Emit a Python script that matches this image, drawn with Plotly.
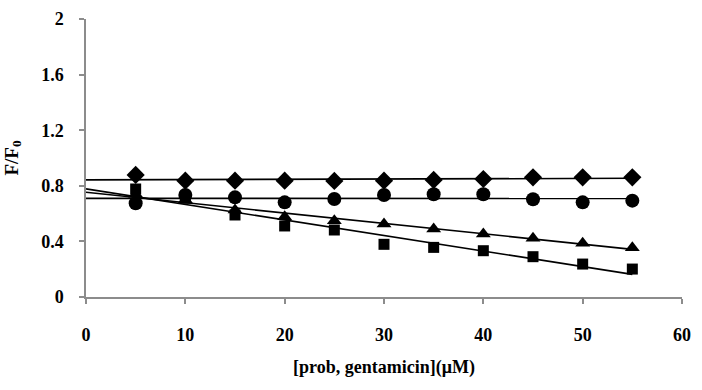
import numpy as np
import plotly.graph_objects as go

x = [5, 10, 15, 20, 25, 30, 35, 40, 45, 50, 55]
diamond = [0.878, 0.837, 0.837, 0.837, 0.835, 0.837, 0.842, 0.849, 0.861, 0.861, 0.861]
circle = [0.674, 0.734, 0.717, 0.681, 0.705, 0.734, 0.739, 0.739, 0.703, 0.681, 0.693]
triangle = [0.74, 0.70, 0.626, 0.578, 0.549, 0.525, 0.489, 0.453, 0.422, 0.386, 0.355]
square = [0.777, 0.71, 0.59, 0.511, 0.482, 0.379, 0.357, 0.333, 0.29, 0.237, 0.201]

x_ticks = [0, 10, 20, 30, 40, 50, 60]
y_ticks = [0, 0.4, 0.8, 1.2, 1.6, 2]
y_tick_text = ["0", "0.4", "0.8", "1.2", "1.6", "2"]

series = [
    ("diamond", diamond, "diamond", 14),
    ("square", square, "square", 11),
    ("triangle", triangle, "triangle-up", 13),
    ("circle", circle, "circle", 14),
]

fig = go.Figure()
xl = np.array([0, 55])
for name, ys, sym, size in series:
    k, b = np.polyfit(x, ys, 1)
    fig.add_trace(go.Scatter(x=xl, y=k * xl + b, mode="lines",
                             line=dict(color="black", width=1.6),
                             showlegend=False, hoverinfo="skip"))
for name, ys, sym, size in series:
    fig.add_trace(go.Scatter(x=x, y=ys, mode="markers", name=name,
                             marker=dict(symbol=sym, size=size, color="black"),
                             showlegend=False))

fam = "Liberation Serif, Times New Roman, serif"
tickfont = dict(family=fam, size=18, color="black", weight="bold")
fig.update_layout(
    width=702, height=390,
    margin=dict(l=86, r=20, t=19, b=93),
    plot_bgcolor="white", paper_bgcolor="white",
    font=dict(family=fam, size=18, color="black"),
    xaxis=dict(range=[0, 60], tickvals=x_ticks, showgrid=False, zeroline=False,
               showline=True, linecolor="#8c8c8c", linewidth=1.5,
               ticks="outside", ticklen=5, tickcolor="#8c8c8c", tickwidth=1.5,
               ticklabelstandoff=16, automargin=False,
               tickfont=tickfont,
               title=dict(text="<b>[prob, gentamicin](μM)</b>", standoff=16,
                          font=dict(family=fam, size=18, color="black"))),
    yaxis=dict(range=[0, 2], tickvals=y_ticks, ticktext=y_tick_text, showgrid=False,
               zeroline=False, showline=True, linecolor="#8c8c8c", linewidth=1.5,
               ticks="outside", ticklen=5, tickcolor="#8c8c8c", tickwidth=1.5,
               ticklabelstandoff=12, automargin=False,
               tickfont=tickfont,
               title=dict(text="<b>F/F<sub>0</sub></b>", standoff=18,
                          font=dict(family=fam, size=19, color="black"))),
)
fig.write_html("out.html", config={"displayModeBar": False},
               post_script="document.body.style.margin='0px';")
